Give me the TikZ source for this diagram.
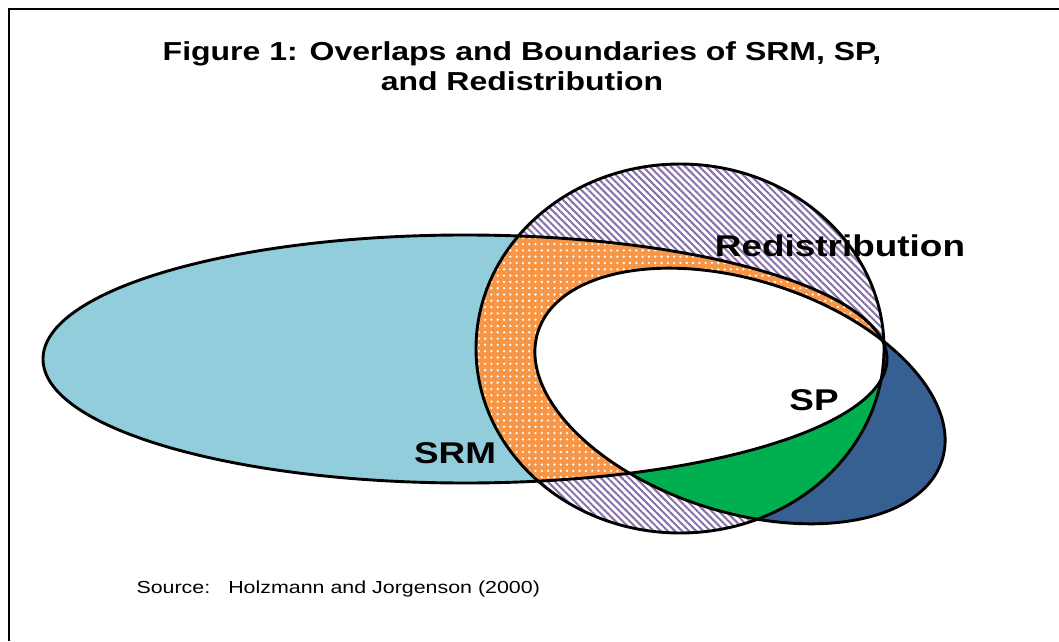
\documentclass[tikz,border=0pt]{standalone}
\usepackage{fontspec}
\setmainfont{Liberation Sans}[FakeStretch=1.23]
\usepackage{tikz}
\usetikzlibrary{patterns.meta}
\definecolor{srmblue}{RGB}{146,205,220}
\definecolor{srmorange}{RGB}{247,150,70}
\definecolor{redpurple}{RGB}{136,112,172}
\definecolor{spgreen}{RGB}{0,176,80}
\definecolor{spblue}{RGB}{54,96,146}
\tikzstyle{outline} = [draw=black, line width=2.9pt]
\tikzstyle{titletext} = [anchor=base, font=\fontsize{26}{30}\selectfont\bfseries]
\tikzstyle{setlabel} = [anchor=base, font=\fontsize{30}{36}\selectfont\bfseries]
\tikzstyle{hatch} = [pattern={Lines[angle=-45, distance=5pt, line width=2pt]}, pattern color=redpurple]
\tikzstyle{dots} = [pattern={Dots[radius=1.3pt, distance=6.3pt]}, pattern color=white]
\newcommand{\srmshape}{(465,282) ellipse [x radius=422pt, y radius=124pt]}
\newcommand{\redshape}{(680,292.5) ellipse [x radius=204pt, y radius=184.5pt]}
\newcommand{\spshape}{(740,245) ellipse [x radius=212pt, y radius=116pt, rotate=-17.6]}

\begin{document}
\begin{tikzpicture}[x=1pt, y=1pt]
    \useasboundingbox (0,0) rectangle (1059,641);
    % Frame
    \draw[line width=2pt] (8.5,0) -- (8.5,631.5) -- (1059,631.5);

    % Title
    \node[titletext] (title) at (522,580) {Figure 1: Overlaps and Boundaries of SRM, SP,};
    \node[titletext] (title2) at (522,550) {and Redistribution};

    % Sets
    \fill[srmblue] \srmshape;
    \fill[white] \redshape;
    \fill[hatch] \redshape;
    \begin{scope}
        \clip \redshape;
        \fill[srmorange] \srmshape;
        \fill[dots] \srmshape;
    \end{scope}
    \fill[spblue] \spshape;
    \begin{scope}
        \clip \redshape;
        \fill[spgreen] \spshape;
        \clip \srmshape;
        \fill[white] \spshape;
    \end{scope}

    % Outlines
    \draw[outline] \srmshape;
    \draw[outline] \redshape;
    \draw[outline] \spshape;

    % Labels
    \node[setlabel] (redist) at (840,385) {Redistribution};
    \node[setlabel] (sp) at (814,231) {SP};
    \node[setlabel] (srm) at (455,178) {SRM};
    \node[anchor=base west, font=\fontsize{17.4}{21}\selectfont] (source) at (133,48) {Source:\hspace{18pt}Holzmann and Jorgenson (2000)};
\end{tikzpicture}
\end{document}
